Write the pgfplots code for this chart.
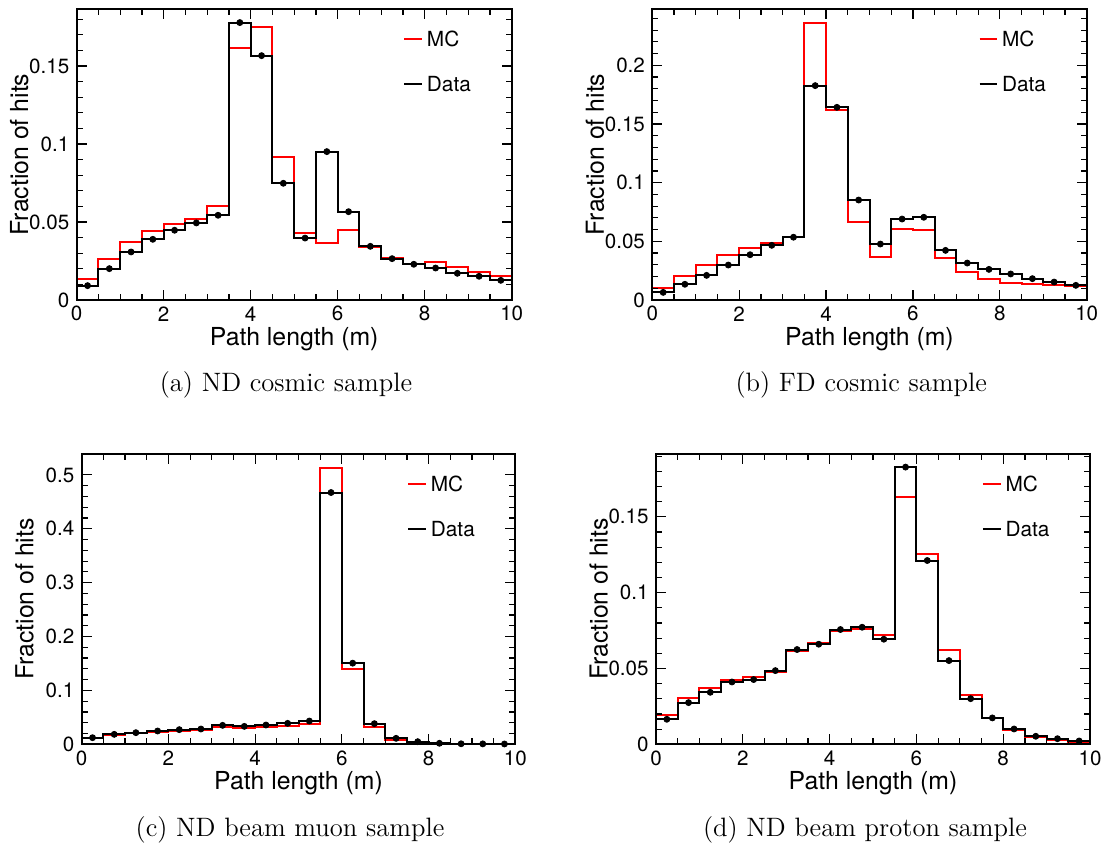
\documentclass[border=0pt]{standalone}
\usepackage{fontspec}
\usepackage{pgfplots}
\usepackage{pgfplotstable}
\pgfplotsset{compat=1.18}
\newfontfamily\heros{TeX Gyre Heros}

% Normalised path-length distributions: lower bin edge, MC fraction, data fraction.
% The last row repeats the final bin so that the step line closes at 10 m.
\pgfplotstableread{
lo   mc     data
0.0  0.0132 0.0092
0.5  0.0265 0.0201
1.0  0.0372 0.0308
1.5  0.0440 0.0389
2.0  0.0489 0.0447
2.5  0.0521 0.0494
3.0  0.0605 0.0543
3.5  0.1618 0.1778
4.0  0.1752 0.1566
4.5  0.0915 0.0748
5.0  0.0430 0.0397
5.5  0.0368 0.0951
6.0  0.0451 0.0566
6.5  0.0340 0.0344
7.0  0.0271 0.0265
7.5  0.0233 0.0229
8.0  0.0244 0.0205
8.5  0.0214 0.0171
9.0  0.0180 0.0152
9.5  0.0156 0.0126
10.0 0.0156 0.0126
}\ndcosmic

\pgfplotstableread{
lo   mc     data
0.0  0.0105 0.0065
0.5  0.0205 0.0134
1.0  0.0301 0.0210
1.5  0.0386 0.0298
2.0  0.0440 0.0386
2.5  0.0489 0.0466
3.0  0.0540 0.0535
3.5  0.2364 0.1827
4.0  0.1617 0.1642
4.5  0.0662 0.0852
5.0  0.0366 0.0477
5.5  0.0608 0.0690
6.0  0.0599 0.0705
6.5  0.0358 0.0423
7.0  0.0236 0.0315
7.5  0.0176 0.0261
8.0  0.0148 0.0222
8.5  0.0134 0.0182
9.0  0.0125 0.0153
9.5  0.0116 0.0125
10.0 0.0116 0.0125
}\fdcosmic

\pgfplotstableread{
lo   mc     data
0.0  0.0120 0.0123
0.5  0.0173 0.0185
1.0  0.0204 0.0216
1.5  0.0228 0.0247
2.0  0.0241 0.0272
2.5  0.0265 0.0284
3.0  0.0327 0.0352
3.5  0.0296 0.0333
4.0  0.0315 0.0358
4.5  0.0346 0.0389
5.0  0.0383 0.0432
5.5  0.5130 0.4673
6.0  0.1389 0.1506
6.5  0.0315 0.0383
7.0  0.0086 0.0111
7.5  0.0037 0.0049
8.0  0.0015 0.0019
8.5  0.0010 0.0010
9.0  0.0006 0.0008
9.5  0.0005 0.0006
10.0 0.0005 0.0006
}\ndmuon

\pgfplotstableread{
lo   mc     data
0.0  0.0194 0.0165
0.5  0.0303 0.0275
1.0  0.0369 0.0343
1.5  0.0424 0.0411
2.0  0.0444 0.0427
2.5  0.0477 0.0486
3.0  0.0614 0.0625
3.5  0.0666 0.0660
4.0  0.0750 0.0757
4.5  0.0761 0.0772
5.0  0.0721 0.0693
5.5  0.1630 0.1828
6.0  0.1256 0.1212
6.5  0.0625 0.0552
7.0  0.0323 0.0301
7.5  0.0176 0.0174
8.0  0.0092 0.0101
8.5  0.0051 0.0053
9.0  0.0031 0.0037
9.5  0.0015 0.0022
10.0 0.0015 0.0022
}\ndproton

\pgfplotsset{
  pathframe/.style={
    scale only axis, anchor=south west,
    xmin=0, xmax=10, ymin=0,
    xtick distance=2, minor x tick num=3, minor y tick num=4,
    tick align=inside, tick pos=both,
    major tick length=5pt, minor tick length=3pt,
    axis on top,
    axis line style={line width=1pt},
    every tick/.style={black, line width=0.6pt},
    scaled y ticks=false,
    /pgf/number format/assume math mode=true,
    yticklabel style={/pgf/number format/fixed, /pgf/number format/precision=2,
      anchor=east, inner xsep=0pt, xshift=-3.5pt},
    xticklabel style={anchor=center, yshift=-6.85pt},
    tick label style={font=\heros\fontsize{10.3}{12}\selectfont},
    xlabel={Path length (m)}, ylabel={Fraction of hits},
    every axis x label/.style={at={(axis description cs:0.5,-0.135)}, anchor=center,
      font=\heros\fontsize{12.4}{14}\selectfont},
    every axis y label/.style={at={(axis description cs:-0.132,0.5)}, anchor=center,
      rotate=90, font=\heros\fontsize{12.4}{14}\selectfont},
    legend cell align=left,
    legend image code/.code={\draw[#1] (0pt,0pt) -- (8.8pt,0pt);},
    legend style={draw=none, fill=none, inner sep=0pt,
      at={(axis description cs:0.75,0.925)}, anchor=north west,
      font=\heros\fontsize{10.4}{12}\selectfont,
      nodes={inner sep=0pt, text height=7.5pt, text depth=0pt},
      row sep=15pt, column sep=2pt},
  },
  mcline/.style={red, line width=1pt, const plot mark left},
  dataline/.style={black, line width=1pt, const plot mark left},
  datamarks/.style={only marks, mark=*, mark size=1.5pt, black, forget plot,
    skip coords between index={20}{21}},
}
\tikzset{subcaption/.style={anchor=base, font=\fontsize{13.3}{16}\selectfont}}

\begin{document}
\begin{tikzpicture}
\useasboundingbox (0,0) rectangle (554pt,421.5pt);

% (a) ND cosmic
\begin{axis}[pathframe, at={(38.35pt,271.5pt)}, width=217.5pt, height=145.5pt,
  ymax=0.1865, ytick distance=0.05]
  \addplot[mcline] table[x=lo, y=mc] {\ndcosmic};
  \addlegendentry{MC}
  \addplot[dataline] table[x=lo, y=data] {\ndcosmic};
  \addlegendentry{Data}
  \addplot[datamarks] table[x expr=\thisrow{lo}+0.25, y=data] {\ndcosmic};
\end{axis}
\node[subcaption] at (143pt,225.7pt) {(a) ND cosmic sample};

% (b) FD cosmic
\begin{axis}[pathframe, at={(326.15pt,271.5pt)}, width=217.2pt, height=145.5pt,
  ymax=0.248, ytick distance=0.05]
  \addplot[mcline] table[x=lo, y=mc] {\fdcosmic};
  \addlegendentry{MC}
  \addplot[dataline] table[x=lo, y=data] {\fdcosmic};
  \addlegendentry{Data}
  \addplot[datamarks] table[x expr=\thisrow{lo}+0.25, y=data] {\fdcosmic};
\end{axis}
\node[subcaption] at (430.6pt,225.7pt) {(b) FD cosmic sample};

% (c) ND beam muon
\begin{axis}[pathframe, at={(40.85pt,49.35pt)}, width=216.8pt, height=145.2pt,
  ymax=0.539, ytick distance=0.1]
  \addplot[mcline] table[x=lo, y=mc] {\ndmuon};
  \addlegendentry{MC}
  \addplot[dataline] table[x=lo, y=data] {\ndmuon};
  \addlegendentry{Data}
  \addplot[datamarks] table[x expr=\thisrow{lo}+0.25, y=data] {\ndmuon};
\end{axis}
\node[subcaption] at (145pt,3.5pt) {(c) ND beam muon sample};

% (d) ND beam proton
\begin{axis}[pathframe, at={(328pt,49.35pt)}, width=217pt, height=145.2pt,
  ymax=0.1915, ytick distance=0.05]
  \addplot[mcline] table[x=lo, y=mc] {\ndproton};
  \addlegendentry{MC}
  \addplot[dataline] table[x=lo, y=data] {\ndproton};
  \addlegendentry{Data}
  \addplot[datamarks] table[x expr=\thisrow{lo}+0.25, y=data] {\ndproton};
\end{axis}
\node[subcaption] at (432.5pt,3.5pt) {(d) ND beam proton sample};
\end{tikzpicture}
\end{document}
